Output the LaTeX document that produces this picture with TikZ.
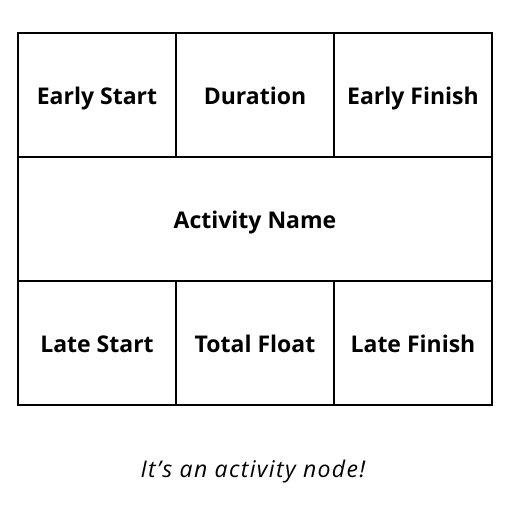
\documentclass[tikz,border=0pt]{standalone}
\usepackage{fontspec}
\setmainfont{Open Sans}
\begin{document}
\begin{tikzpicture}[x=1pt,y=1pt]
		\tikzstyle{every node}+=[inner sep=0pt]
		\tikzstyle{cell}=[draw=black, line width=2.8pt, minimum width=158pt, minimum height=124pt, text height=22pt, text depth=4pt, font=\fontsize{23}{27}\selectfont\bfseries]
		\useasboundingbox (0,0) rectangle (519,-519);
		\node [cell] (es) at (97,-95) {Early Start};
		\node [cell] (du) at (255,-95) {Duration};
		\node [cell] (ef) at (413,-95) {Early Finish};
		\node [cell, minimum width=474pt] (an) at (255,-219) {Activity Name};
		\node [cell] (ls) at (97,-343) {Late Start};
		\node [cell] (tf) at (255,-343) {Total Float};
		\node [cell] (lf) at (413,-343) {Late Finish};
		\node [anchor=base, font=\fontsize{23}{27}\selectfont\itshape\addfontfeatures{LetterSpace=6}] (cap) at (253,-477) {It’s an activity node!};
	\end{tikzpicture}
\end{document}
